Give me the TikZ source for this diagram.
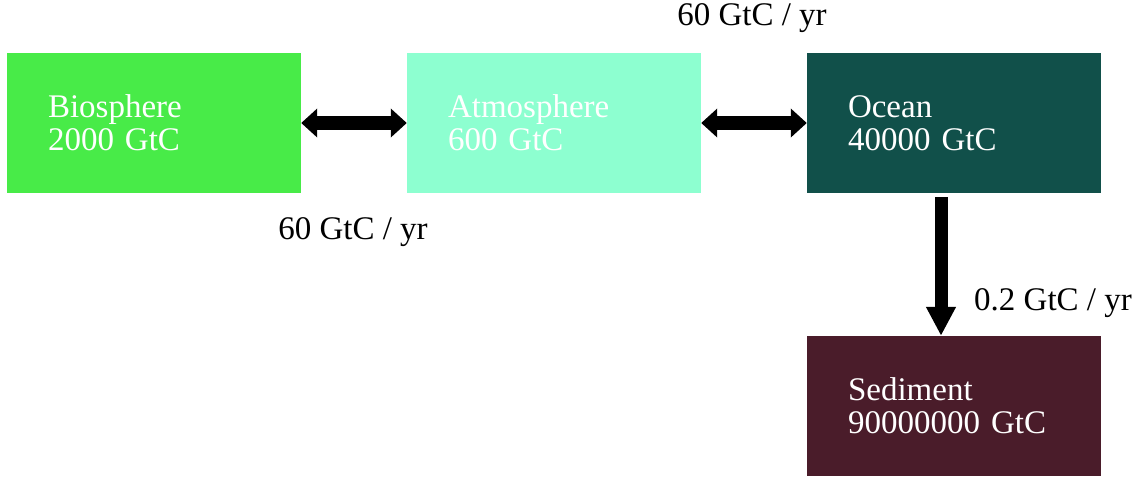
\documentclass[tikz,border=0pt]{standalone}
\usepackage{fontspec}
\setmainfont{Liberation Serif}
\usetikzlibrary{arrows.meta}
\definecolor{bioC}{RGB}{72,235,72}
\definecolor{atmC}{RGB}{141,255,208}
\definecolor{ocnC}{RGB}{17,80,74}
\definecolor{sedC}{RGB}{74,28,42}
\tikzset{
  reservoir/.style={draw=none, minimum width=294pt, minimum height=140pt,
    inner xsep=41pt, inner ysep=0pt, text width=212pt, align=left,
    text=white, font=\fontsize{33}{33}\selectfont},
  flowlabel/.style={font=\fontsize{33}{33}\selectfont, inner sep=0pt},
  dblflow/.style={line width=14pt, {Triangle[width=28pt,length=16pt]}-{Triangle[width=28pt,length=16pt]}},
  downflow/.style={line width=13pt, -{Triangle[width=28pt,length=29pt]}}
}
\begin{document}
\begin{tikzpicture}[x=1pt,y=-1pt]
\useasboundingbox[fill=white] (0,0) rectangle (1140,480);
\node[reservoir, fill=bioC] (bio) at (154,123) {Biosphere\\2000 GtC};
\node[reservoir, fill=atmC] (atm) at (554,123) {Atmosphere\\600 GtC};
\node[reservoir, fill=ocnC] (ocn) at (954,123) {Ocean\\40000 GtC};
\node[reservoir, fill=sedC] (sed) at (954,406) {Sediment\\90000000 GtC};
\draw[dblflow] (bio.east) -- (atm.west);
\draw[dblflow] (atm.east) -- (ocn.west);
\draw[downflow] ([xshift=-13pt,yshift=-4pt]ocn.south) -- ([xshift=-13pt]sed.north);
\node[flowlabel] (l1) at (353,232) {60 GtC / yr};
\node[flowlabel] (l2) at (752,18) {60 GtC / yr};
\node[flowlabel] (l3) at (1053,303) {0.2 GtC / yr};
\end{tikzpicture}
\end{document}
